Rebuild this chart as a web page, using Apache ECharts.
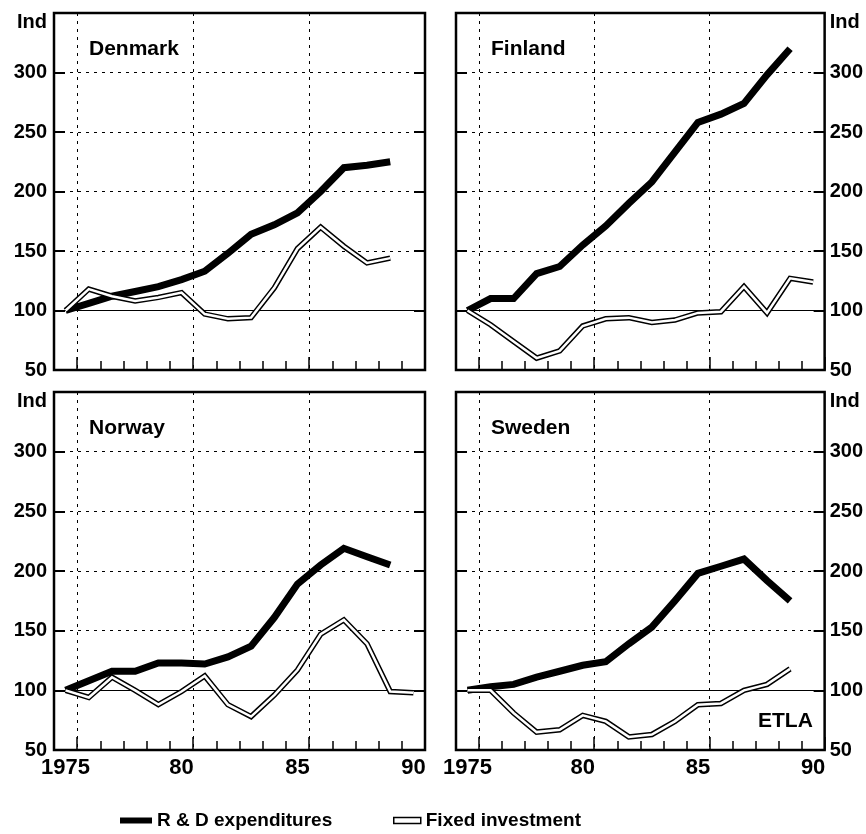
<!DOCTYPE html>
<html><head><meta charset="utf-8">
<script src="https://cdn.jsdelivr.net/npm/echarts@6/dist/echarts.min.js"></script>
<style>html,body{margin:0;padding:0;background:#fff}#c{width:866px;height:834px}</style>
</head><body><div id="c"></div>
<script>
// ---- data ----
const years = ['1975','1976','1977','1978','1979','1980','1981','1982','1983','1984','1985','1986','1987','1988','1989','1990'];
const countries = ['Denmark', 'Finland', 'Norway', 'Sweden'];
const rdDenmark  = [100,106,112,116,120,126,133,148,164,172,182,200,220,222,225];
const fixDenmark = [100,118,112,108,111,115,97,93,94,119,152,170,154,140,144];
const rdFinland  = [100,110,110,131,137,155,171,190,208,233,258,265,274,298,320];
const fixFinland = [100,88,74,60,66,87,93,94,90,92,98,99,120,98,127,124];
const rdNorway   = [100,108,116,116,123,123,122,128,137,161,189,205,219,212,205];
const fixNorway  = [100,94,111,100,88,99,112,88,78,96,117,147,159,139,99,98];
const rdSweden   = [100,103,105,111,116,121,124,139,153,175,198,204,210,192,175];
const fixSweden  = [100,100,81,65,67,79,74,61,63,74,88,89,100,105,118];
const yTicks = [50,100,150,200,250,300,350];
const baseIndex = 100;
const rdSeries = [rdDenmark, rdFinland, rdNorway, rdSweden];
const fixSeries = [fixDenmark, fixFinland, fixNorway, fixSweden];
const RD = 'R & D expenditures', FIX = 'Fixed investment';

// ---- layout ----
const font = '"Liberation Sans", Arial, Helvetica, sans-serif';
const grids = [
  {left:54,  top:13,  width:371, height:357},
  {left:456, top:13,  width:369, height:357},
  {left:54,  top:392, width:371, height:358},
  {left:456, top:392, width:369, height:358}
];
const labelSide = ['left','right','left','right'];
const bottomRow = [false,false,true,true];
const titlePos = [{left:89, top:39},{left:491, top:39},{left:89, top:418},{left:491, top:418}];

const option = {
  animation:false,
  backgroundColor:'#fff',
  title: countries.map((c,i)=>({text:c, left:titlePos[i].left, top:titlePos[i].top, padding:0,
      textStyle:{fontFamily:font, fontSize:21, fontWeight:'bold', color:'#000'}}))
    .concat([{text:'ETLA', left:758, top:711, padding:0, textStyle:{fontFamily:font, fontSize:21, fontWeight:'bold', color:'#000'}}]),
  legend: [
    {left:120, top:811, padding:0, selectedMode:false, itemWidth:32, itemHeight:6,
     data:[{name:RD, icon:'rect', itemStyle:{color:'#000', borderWidth:0}}],
     textStyle:{fontFamily:font, fontSize:19, fontWeight:'bold', color:'#000'}},
    {left:393, top:811, padding:0, selectedMode:false, itemWidth:27, itemHeight:6,
     data:[{name:FIX, icon:'rect', itemStyle:{color:'#fff', borderColor:'#000', borderWidth:1.5}}],
     textStyle:{fontFamily:font, fontSize:19, fontWeight:'bold', color:'#000'}}
  ],
  grid: grids.map(g=>Object.assign({show:true, borderColor:'#000', borderWidth:2.5, backgroundColor:'transparent', containLabel:false}, g)),
  xAxis: [], yAxis: [], series: []
};

grids.forEach((g,i)=>{
  option.xAxis.push({
    type:'category', gridIndex:i, data:years, boundaryGap:true, position:'bottom',
    axisLine:{show:false},
    axisTick:{show:true, inside:true, length:9, interval:0, lineStyle:{color:'#000', width:1.5}},
    axisLabel:{show:bottomRow[i], interval:(idx,val)=>Number(val)%5===0,
      formatter:v=> v===years[0] ? v : v.slice(2),
      margin:7, fontFamily:font, fontSize:22, fontWeight:'bold', color:'#000'},
    splitLine:{show:true, interval:(idx)=>idx%5===1, lineStyle:{color:'#000', width:1, type:[3,5]}}
  });
  option.xAxis.push({
    type:'category', gridIndex:i, data:years, boundaryGap:true, position:'bottom',
    axisLine:{show:false}, axisLabel:{show:false}, splitLine:{show:false},
    axisTick:{show:true, inside:true, length:13, interval:(idx)=>idx%5===1, lineStyle:{color:'#000', width:1.5}}
  });
  const sides = [labelSide[i], labelSide[i]==='left' ? 'right' : 'left'];
  sides.forEach((pos,k)=>{
    option.yAxis.push({
      type:'value', gridIndex:i, position:pos, min:yTicks[0], max:yTicks[yTicks.length-1], interval:yTicks[1]-yTicks[0],
      axisLine:{show:false},
      axisTick:{show:true, inside:true, length:11, lineStyle:{color:'#000', width:2}},
      axisLabel:{show:k===0, margin: pos==='left'?7:5, showMinLabel:true, showMaxLabel:true,
        fontFamily:font, fontSize:20, fontWeight:'bold', color:'#000',
        formatter:v=> v===yTicks[yTicks.length-1] ? '{i|Ind}' : String(v),
        rich:{i:{fontFamily:font, fontSize:20, fontWeight:'bold', color:'#000', padding:[18,0,0,0]}}},
      splitLine:{show:k===0, lineStyle:{color:'#000', width:1, type:[3,5]}}
    });
  });
  const xi = 2*i, yi = 2*i;
  option.series.push({
    type:'line', name:FIX, xAxisIndex:xi, yAxisIndex:yi, data:fixSeries[i], symbol:'none', z:3,
    lineStyle:{color:'#000', width:5.5, join:'miter'}, itemStyle:{color:'#000'},
    markLine:{z:1, silent:true, symbol:['none','none'], label:{show:false}, animation:false,
      lineStyle:{color:'#000', width:1, type:'solid'}, data:[{yAxis:baseIndex}]}
  });
  option.series.push({
    type:'line', name:FIX+' inner', xAxisIndex:xi, yAxisIndex:yi, data:fixSeries[i], symbol:'none', z:4,
    lineStyle:{color:'#fff', width:2.5, join:'miter'}, itemStyle:{color:'#fff'}
  });
  option.series.push({
    type:'line', name:RD, xAxisIndex:xi, yAxisIndex:yi, data:rdSeries[i], symbol:'none', z:2,
    lineStyle:{color:'#000', width:7, join:'miter'}, itemStyle:{color:'#000'}
  });
});

const chart = echarts.init(document.getElementById('c'), null, {renderer:'canvas'});
chart.setOption(option);
</script>
</body></html>
